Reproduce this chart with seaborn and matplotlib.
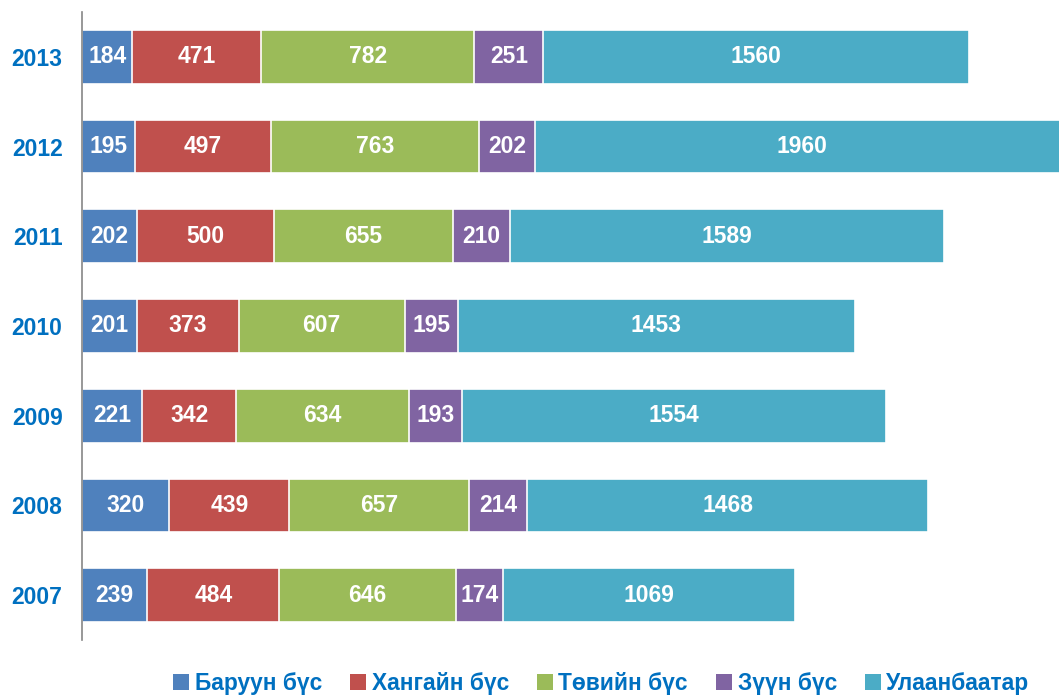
import matplotlib
matplotlib.use("Agg")
import matplotlib.pyplot as plt
from matplotlib.patches import Patch
import seaborn as sns
import pandas as pd

years = ["2013", "2012", "2011", "2010", "2009", "2008", "2007"]
regions = ["Баруун бүс", "Хангайн бүс", "Төвийн бүс", "Зүүн бүс", "Улаанбаатар"]
baruun = [184, 195, 202, 201, 221, 320, 239]
khangai = [471, 497, 500, 373, 342, 439, 484]
tuv = [782, 763, 655, 607, 634, 657, 646]
zuun = [251, 202, 210, 195, 193, 214, 174]
ulaanbaatar = [1560, 1960, 1589, 1453, 1554, 1468, 1069]
colors = ["#4F81BD", "#C0504D", "#9BBB59", "#8064A2", "#4BACC6"]

series = [baruun, khangai, tuv, zuun, ulaanbaatar]
df = pd.DataFrame({"year": years})
for name, vals in zip(regions, series):
    df[name] = vals
cum = df[regions].cumsum(axis=1)

sns.set_theme(style="white")
plt.rcParams["font.family"] = ["Liberation Sans", "DejaVu Sans"]

fig = plt.figure(figsize=(10.59, 6.95), dpi=100)
ax = fig.add_axes([82 / 1059, 1 - 640 / 695, 1 - 82 / 1059, (640 - 12) / 695])

# stacked bars: draw cumulative totals from the outermost segment inward
for name, color in reversed(list(zip(regions, colors))):
    sns.barplot(data=cum.assign(year=years), x=name, y="year", orient="h",
                order=years, color=color, saturation=1, width=0.6,
                edgecolor="white", linewidth=1.2, ax=ax)

# value labels in the middle of each segment
for i, yr in enumerate(years):
    start = 0
    for name in regions:
        v = df.loc[i, name]
        ax.text(start + v / 2, i, f"{v}", ha="center", va="center",
                color="white", fontsize=16.5, fontweight="bold")
        start += v

ax.set_xlim(0, 3577)
ax.set_ylim(6.5, -0.5)
ax.set_xlabel("")
ax.set_ylabel("")
ax.set_xticks([])
for s in ["top", "right", "bottom"]:
    ax.spines[s].set_visible(False)
ax.spines["left"].set_color("#868686")
ax.spines["left"].set_linewidth(1.2)
ax.tick_params(axis="y", length=0, pad=14)
for lab in ax.get_yticklabels():
    lab.set_color("#0070C0")
    lab.set_fontweight("bold")
    lab.set_fontsize(16.5)

handles = [Patch(facecolor=c, edgecolor="none") for c in colors]
leg = fig.legend(handles, regions, loc="center", bbox_to_anchor=(0.568, 0.017),
                 ncol=5, frameon=False, handlelength=0.68, handleheight=0.68,
                 handletextpad=0.25, columnspacing=1.25,
                 prop={"weight": "bold", "size": 16.4})
for t in leg.get_texts():
    t.set_color("#0070C0")

fig.savefig("out.png", dpi=100)
